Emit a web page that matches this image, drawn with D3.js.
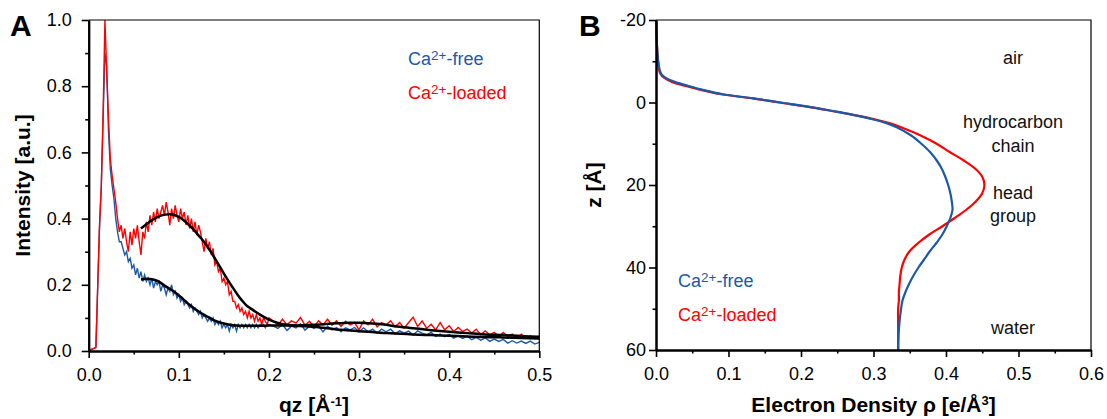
<!DOCTYPE html>
<html>
<head>
<meta charset="utf-8">
<script src="https://cdn.jsdelivr.net/npm/d3@7"></script>
<style>
  body { margin: 0; background: #fff; }
  svg { display: block; font-family: "Liberation Sans", Arial, sans-serif; }
</style>
</head>
<body>
<svg id="chart" width="1107" height="419"></svg>
<script>
// ---- Panel A: reflectivity / intensity vs qz ----
// qz grid: 0..0.2 every 0.002, then 0.205..0.5 every 0.005
const qzLow = d3.range(101).map(i => +(i * 0.002).toFixed(3));
const qzHigh = d3.range(60).map(i => +(0.205 + i * 0.005).toFixed(3));

const freeLow = [
  0.000,0.003,0.006,0.008,0.010,0.19,0.37,0.50,0.70,0.90,
  0.86,0.66,0.55,0.50,0.46,0.40,0.36,0.33,0.33,0.31,
  0.29,0.30,0.27,0.28,0.25,0.26,0.23,0.25,0.22,0.24,
  0.21,0.23,0.21,0.22,0.20,0.22,0.19,0.21,0.20,0.21,
  0.18,0.20,0.19,0.17,0.19,0.18,0.20,0.17,0.18,0.16,
  0.17,0.15,0.16,0.14,0.15,0.14,0.13,0.14,0.12,0.13,
  0.12,0.11,0.12,0.10,0.11,0.10,0.09,0.10,0.09,0.10,
  0.08,0.09,0.08,0.09,0.07,0.08,0.07,0.08,0.06,0.08,
  0.07,0.08,0.06,0.08,0.07,0.08,0.07,0.08,0.07,0.08,
  0.07,0.08,0.07,0.08,0.07,0.08,0.075,0.08,0.07,0.08,
  0.08
];
const freeHigh = [
  0.075,0.068,0.080,0.062,0.075,0.070,0.082,0.063,0.075,0.068,
  0.076,0.058,0.075,0.064,0.071,0.058,0.070,0.064,0.071,0.058,
  0.070,0.058,0.066,0.054,0.066,0.058,0.066,0.052,0.061,0.054,
  0.060,0.048,0.061,0.054,0.049,0.056,0.044,0.051,0.043,0.050,
  0.039,0.046,0.038,0.045,0.034,0.041,0.033,0.040,0.029,0.036,
  0.029,0.035,0.024,0.031,0.024,0.030,0.023,0.030,0.021,0.026
];
const loadedLow = [
  0.000,0.004,0.006,0.008,0.012,0.20,0.38,0.50,0.72,1.00,
  0.84,0.70,0.58,0.53,0.49,0.45,0.40,0.36,0.38,0.34,
  0.37,0.33,0.30,0.36,0.32,0.37,0.34,0.38,0.33,0.29,
  0.36,0.34,0.39,0.36,0.41,0.38,0.42,0.39,0.43,0.40,
  0.42,0.44,0.41,0.45,0.42,0.38,0.43,0.40,0.44,0.41,
  0.39,0.43,0.40,0.42,0.38,0.41,0.37,0.40,0.36,0.39,
  0.35,0.38,0.36,0.33,0.30,0.34,0.31,0.33,0.29,0.31,
  0.26,0.27,0.24,0.25,0.21,0.22,0.20,0.21,0.17,0.18,
  0.15,0.15,0.13,0.14,0.12,0.13,0.11,0.12,0.10,0.12,
  0.10,0.11,0.09,0.11,0.09,0.10,0.08,0.10,0.09,0.08,
  0.10
];
const loadedHigh = [
  0.090,0.078,0.096,0.079,0.091,0.084,0.101,0.078,0.090,0.073,
  0.091,0.079,0.096,0.078,0.091,0.074,0.090,0.079,0.086,0.064,
  0.091,0.079,0.096,0.073,0.086,0.079,0.091,0.073,0.086,0.069,
  0.086,0.102,0.074,0.091,0.069,0.081,0.064,0.086,0.064,0.076,
  0.059,0.071,0.059,0.066,0.054,0.066,0.049,0.061,0.049,0.056,
  0.044,0.056,0.044,0.051,0.039,0.051,0.039,0.046,0.039,0.045
];

// model fits (black)
const fitQ = [0.058,0.065,0.07,0.075,0.08,0.085,0.09,0.095,0.10,0.105,
  0.11,0.115,0.12,0.125,0.13,0.135,0.14,0.145,0.15,0.155,
  0.16,0.165,0.17,0.175,0.18,0.19,0.20,0.21,0.22,0.23,
  0.24,0.25,0.26,0.27,0.28,0.29,0.30,0.31,0.32,0.33,
  0.34,0.36,0.38,0.40,0.42,0.44,0.46,0.48,0.50];
const fitLoaded = [0.370,0.385,0.395,0.403,0.409,0.412,0.413,0.411,0.405,0.396,
  0.384,0.371,0.355,0.340,0.322,0.302,0.280,0.257,0.234,0.212,
  0.191,0.171,0.153,0.138,0.128,0.110,0.095,0.085,0.079,0.077,
  0.078,0.079,0.081,0.083,0.084,0.085,0.085,0.084,0.082,0.079,
  0.075,0.069,0.063,0.058,0.054,0.050,0.048,0.045,0.043];
const fitFree = [0.216,0.218,0.217,0.213,0.206,0.196,0.188,0.179,0.168,0.156,
  0.144,0.133,0.123,0.114,0.106,0.099,0.092,0.087,0.083,0.080,
  0.078,0.077,0.076,0.076,0.076,0.076,0.077,0.077,0.077,0.076,
  0.075,0.073,0.070,0.067,0.064,0.062,0.060,0.058,0.056,0.054,
  0.053,0.050,0.048,0.046,0.044,0.042,0.041,0.039,0.038];

// ---- Panel B: electron density profiles ----
const zB = [-20,-15,-12,-10,-8,-7,-6,-5,-4,-3,-2,-1,0,1,2,3,4,5,6,8,
  10,12,14,16,18,20,22,24,26,28,30,32,34,36,38,40,42,44,46,48,50,55,60];
const rhoFree = [0.000,0.001,0.002,0.003,0.005,0.007,0.013,0.026,0.045,0.066,
  0.092,0.135,0.172,0.210,0.242,0.272,0.297,0.318,0.332,0.352,
  0.366,0.378,0.387,0.394,0.399,0.403,0.406,0.408,0.409,0.406,
  0.401,0.395,0.387,0.378,0.370,0.362,0.355,0.349,0.344,0.340,
  0.338,0.335,0.334];
const rhoLoaded = [0.000,0.001,0.002,0.003,0.004,0.006,0.011,0.022,0.041,0.063,
  0.090,0.133,0.170,0.208,0.241,0.272,0.300,0.322,0.338,0.365,
  0.387,0.405,0.424,0.440,0.450,0.453,0.450,0.441,0.428,0.412,
  0.395,0.377,0.362,0.350,0.343,0.339,0.337,0.336,0.335,0.335,
  0.334,0.334,0.334];

const regionLabels = [
  { text: "air", z: -9.3 },
  { text: "hydrocarbon", z: 6.3 },
  { text: "chain", z: 12 },
  { text: "head", z: 23.5 },
  { text: "group", z: 29 },
  { text: "water", z: 56 }
];

const BLUE = "#1c59a6";
const RED = "#ff0000";

const svg = d3.select("#chart");

function drawAxes(g, x, y, o) {
  const gx = g.append("g").attr("transform", `translate(0,${y.range()[0]})`);
  gx.call(d3.axisBottom(x).tickValues(o.xMinor).tickSize(3.5).tickSizeOuter(0).tickFormat(""));
  gx.append("g").call(d3.axisBottom(x).tickValues(o.xMajor).tickSize(7)
    .tickSizeOuter(0).tickPadding(10).tickFormat(d3.format(".1f")));
  const gy = g.append("g").attr("transform", `translate(${x.range()[0]},0)`);
  gy.call(d3.axisLeft(y).tickValues(o.yMinor).tickSize(3.5).tickSizeOuter(0).tickFormat(""));
  gy.append("g").call(d3.axisLeft(y).tickValues(o.yMajor).tickSize(7)
    .tickSizeOuter(0).tickPadding(o.yPad).tickFormat(o.yFmt));

  g.selectAll(".domain").attr("stroke", "#000").attr("stroke-width", 2);
  g.selectAll(".tick line").attr("stroke", "#000").attr("stroke-width", 1.6);
  g.selectAll(".tick text").attr("fill", "#000")
    .style("font-size", "18px").style("font-family", "Liberation Sans, Arial, sans-serif");

  // thin frame on top and right
  const [x0, x1] = x.range();
  const [yb, yt] = y.range();
  g.append("path")
    .attr("d", `M${x0},${Math.min(yb, yt)}H${x1}V${Math.max(yb, yt)}`)
    .attr("fill", "none").attr("stroke", "#000").attr("stroke-width", 1.2);
}

function caLabel(g, x, y, rest, color) {
  const t = g.append("text").attr("x", x).attr("y", y).attr("fill", color)
    .style("font-size", "18px");
  t.append("tspan").text("Ca");
  t.append("tspan").attr("dy", -5).style("font-size", "13.5px").text("2+");
  t.append("tspan").attr("dy", 5).text(rest);
}

// ---------------- Panel A ----------------
const gA = svg.append("g");
const xA = d3.scaleLinear().domain([0, 0.5]).range([88.7, 539.3]);
const yA = d3.scaleLinear().domain([0, 1]).range([351, 20]);

const qzAll = qzLow.concat(qzHigh);
const freeAll = freeLow.concat(freeHigh);
const loadedAll = loadedLow.concat(loadedHigh);

const lineA = d3.line().x(d => xA(d[0])).y(d => yA(d[1]));

gA.append("path").datum(qzAll.map((q, i) => [q, freeAll[i]]))
  .attr("d", lineA).attr("fill", "none").attr("stroke", BLUE).attr("stroke-width", 1.4);
gA.append("path").datum(qzAll.map((q, i) => [q, loadedAll[i]]))
  .attr("d", lineA).attr("fill", "none").attr("stroke", RED).attr("stroke-width", 1.4);

const fitLine = d3.line().x(d => xA(d[0])).y(d => yA(d[1])).curve(d3.curveCatmullRom);
[fitLoaded, fitFree].forEach(f => {
  gA.append("path").datum(fitQ.map((q, i) => [q, f[i]]))
    .attr("d", fitLine).attr("fill", "none").attr("stroke", "#000").attr("stroke-width", 2.5);
});

drawAxes(gA, xA, yA, {
  xMajor: [0, 0.1, 0.2, 0.3, 0.4, 0.5],
  xMinor: [0.05, 0.15, 0.25, 0.35, 0.45],
  yMajor: [0, 0.2, 0.4, 0.6, 0.8, 1.0],
  yMinor: [0.1, 0.3, 0.5, 0.7, 0.9],
  yFmt: d3.format(".1f"),
  yPad: 10
});

caLabel(gA, 408, 65, "-free", BLUE);
caLabel(gA, 408, 99, "-loaded", RED);

gA.append("text").attr("x", 10).attr("y", 36).text("A")
  .style("font-size", "30px").style("font-weight", "bold");

gA.append("text")
  .attr("transform", `translate(30,${(yA.range()[0] + yA.range()[1]) / 2}) rotate(-90)`)
  .attr("text-anchor", "middle").style("font-size", "21px").style("font-weight", "bold")
  .text("Intensity [a.u.]");

const tA = gA.append("text").attr("x", (xA.range()[0] + xA.range()[1]) / 2).attr("y", 412)
  .attr("text-anchor", "middle").style("font-size", "21px").style("font-weight", "bold");
tA.append("tspan").text("qz [Å");
tA.append("tspan").attr("dy", -6).style("font-size", "13px").text("-1");
tA.append("tspan").attr("dy", 6).text("]");

// ---------------- Panel B ----------------
const gB = svg.append("g");
const xB = d3.scaleLinear().domain([0, 0.6]).range([656, 1091]);
const yB = d3.scaleLinear().domain([60, -20]).range([350, 20]);

const lineB = d3.line().x(d => xB(d[1])).y(d => yB(d[0])).curve(d3.curveCatmullRom);
gB.append("path").datum(zB.map((z, i) => [z, rhoLoaded[i]]))
  .attr("d", lineB).attr("fill", "none").attr("stroke", RED).attr("stroke-width", 2.2);
gB.append("path").datum(zB.map((z, i) => [z, rhoFree[i]]))
  .attr("d", lineB).attr("fill", "none").attr("stroke", BLUE).attr("stroke-width", 2.2);

drawAxes(gB, xB, yB, {
  xMajor: [0, 0.1, 0.2, 0.3, 0.4, 0.5, 0.6],
  xMinor: [0.05, 0.15, 0.25, 0.35, 0.45, 0.55],
  yMajor: [-20, 0, 20, 40, 60],
  yMinor: [-10, 10, 30, 50],
  yFmt: d => String(d),
  yPad: 3
});

caLabel(gB, 678, 287, "-free", BLUE);
caLabel(gB, 678, 321, "-loaded", RED);

gB.selectAll("text.region").data(regionLabels).join("text")
  .attr("class", "region")
  .attr("x", 1013).attr("y", d => yB(d.z))
  .attr("text-anchor", "middle").attr("fill", "#111")
  .style("font-size", "18px")
  .text(d => d.text);

gB.append("text").attr("x", 579).attr("y", 36).text("B")
  .style("font-size", "30px").style("font-weight", "bold");

gB.append("text")
  .attr("transform", `translate(601,${(yB.range()[0] + yB.range()[1]) / 2}) rotate(-90)`)
  .attr("text-anchor", "middle").style("font-size", "21px").style("font-weight", "bold")
  .text("z [Å]");

const tB = gB.append("text").attr("x", (xB.range()[0] + xB.range()[1]) / 2).attr("y", 412)
  .attr("text-anchor", "middle").style("font-size", "21px").style("font-weight", "bold");
tB.append("tspan").text("Electron Density ρ [e/Å");
tB.append("tspan").attr("dy", -7).style("font-size", "13px").text("3");
tB.append("tspan").attr("dy", 7).text("]");
</script>
</body>
</html>
